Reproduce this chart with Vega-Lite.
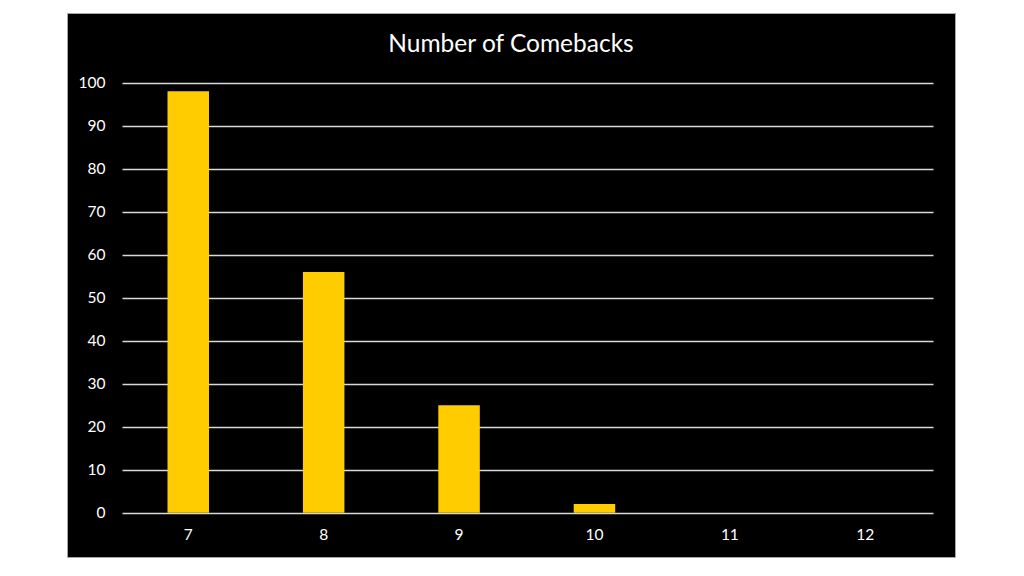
{
  "$schema": "https://vega.github.io/schema/vega-lite/v6.json",
  "width": 888,
  "height": 544,
  "autosize": {"type": "none"},
  "padding": {"left": 67, "top": 13, "right": 69, "bottom": 19},
  "background": "white",
  "data": {
    "values": [
      {"comebacks": "7", "count": 98},
      {"comebacks": "8", "count": 56},
      {"comebacks": "9", "count": 25},
      {"comebacks": "10", "count": 2},
      {"comebacks": "11", "count": 0},
      {"comebacks": "12", "count": 0}
    ]
  },
  "title": {
    "text": "Number of Comebacks",
    "font": "Lato",
    "fontSize": 24.5,
    "fontWeight": "normal",
    "color": "white",
    "anchor": "middle",
    "baseline": "middle",
    "offset": -56
  },
  "mark": {"type": "bar", "color": "#ffcc00"},
  "encoding": {
    "x": {
      "field": "comebacks",
      "type": "ordinal",
      "sort": null,
      "title": null,
      "scale": {"paddingInner": 0.6935, "paddingOuter": 0.6259, "align": 0.593},
      "axis": {
        "offset": -44.3,
        "domain": false,
        "ticks": false,
        "labelPadding": 15,
        "labelAngle": 0,
        "labelFont": "Lato",
        "labelFontSize": 15.5,
        "labelColor": "white"
      }
    },
    "y": {
      "field": "count",
      "type": "quantitative",
      "title": null,
      "scale": {"domain": [-10.3, 116.2], "nice": false, "zero": false},
      "axis": {
        "values": [0, 10, 20, 30, 40, 50, 60, 70, 80, 90, 100],
        "offset": -55,
        "domain": false,
        "grid": false,
        "ticks": true,
        "tickSize": -811,
        "tickColor": "#d9d9d9",
        "tickWidth": 1.5,
        "labelPadding": 828,
        "labelFont": "Lato",
        "labelFontSize": 15.5,
        "labelColor": "white"
      }
    }
  },
  "config": {
    "view": {"fill": "black", "stroke": "#a6a6a6", "strokeWidth": 1}
  }
}
